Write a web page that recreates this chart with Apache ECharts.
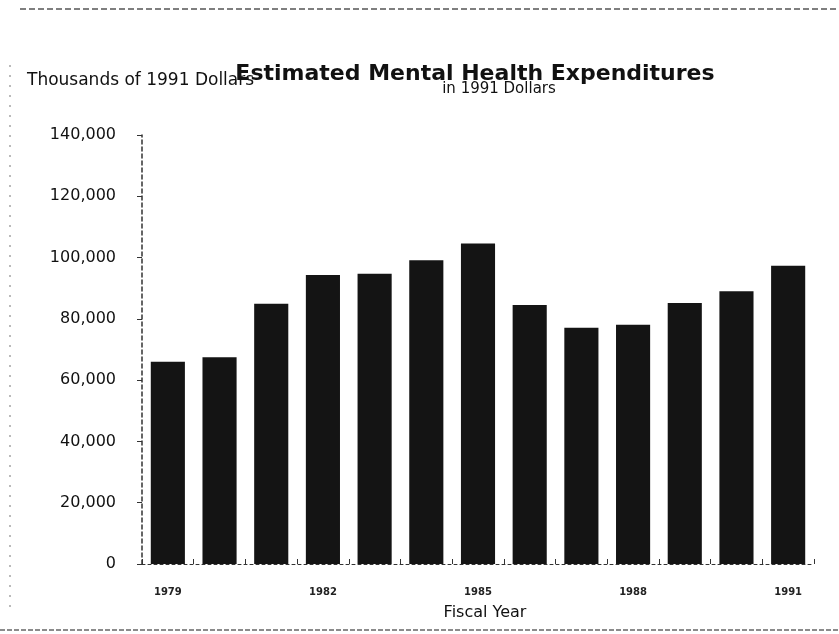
<!DOCTYPE html>
<html>
<head>
<meta charset="utf-8">
<style>html,body{margin:0;padding:0;background:#fff;}#c{width:839px;height:634px;}</style>
<script src="https://cdn.jsdelivr.net/npm/echarts@6/dist/echarts.min.js"></script>
</head>
<body>
<div id="c"></div>
<script>
const years = ['1979','1980','1981','1982','1983','1984','1985','1986','1987','1988','1989','1990','1991'];
const expenditures = [66000, 67500, 84900, 94300, 94700, 99100, 104600, 84500, 77100, 78100, 85200, 89000, 97300];
const yTicks = [0, 20000, 40000, 60000, 80000, 100000, 120000, 140000];

const FONT = 'DejaVu Sans, Liberation Sans, Arial, sans-serif';
const chart = echarts.init(document.getElementById('c'));
chart.setOption({
  animation: false,
  backgroundColor: '#fff',
  textStyle: { fontFamily: FONT },
  title: [
    { text: 'Estimated Mental Health Expenditures', left: 470, top: 58, textAlign: 'center',
      textStyle: { fontSize: 22, fontWeight: 'bold', color: '#111', fontFamily: FONT } },
    { text: 'in 1991 Dollars', left: 494, top: 77, textAlign: 'center',
      textStyle: { fontSize: 15, fontWeight: 'normal', color: '#111', fontFamily: FONT } },
    { text: 'Thousands of 1991 Dollars', left: 22, top: 67,
      textStyle: { fontSize: 17, fontWeight: 'normal', color: '#111', fontFamily: FONT } },
    { text: 'Fiscal Year', left: 480, top: 600, textAlign: 'center',
      textStyle: { fontSize: 16, fontWeight: 'normal', color: '#111', fontFamily: FONT } }
  ],
  graphic: [
    { type: 'line', shape: { x1: 20, y1: 9, x2: 839, y2: 9 }, style: { stroke: '#555', lineWidth: 1.5, lineDash: [6, 3] } },
    { type: 'line', shape: { x1: 0, y1: 630, x2: 839, y2: 630 }, style: { stroke: '#666', lineWidth: 1.5, lineDash: [5, 2] } },
    { type: 'line', shape: { x1: 10, y1: 65, x2: 10, y2: 610 }, style: { stroke: '#777', lineWidth: 1, lineDash: [2, 8] } }
  ],
  grid: { left: 142, right: 25, top: 135, bottom: 70, containLabel: false },
  xAxis: {
    type: 'category',
    data: years,
    axisLine: { show: true, lineStyle: { color: '#333', width: 1, type: [3, 3] } },
    axisTick: { show: true, interval: 0, alignWithLabel: false, length: 5, inside: true, lineStyle: { color: '#333' } },
    axisLabel: { interval: 2, margin: 23, fontSize: 10, fontWeight: 'bold', color: '#222', fontFamily: FONT }
  },
  yAxis: {
    type: 'value',
    min: 0, max: 140000, interval: 20000,
    splitLine: { show: false },
    axisLine: { show: true, lineStyle: { color: '#333', width: 1.5, type: [4, 3] } },
    axisTick: { show: true, length: 5, lineStyle: { color: '#333' } },
    axisLabel: {
      fontSize: 16, color: '#111', margin: 26, fontFamily: FONT,
      formatter: v => yTicks.includes(v) ? v.toLocaleString('en-US') : ''
    }
  },
  series: [{
    type: 'bar',
    data: expenditures,
    barCategoryGap: '34%',
    itemStyle: { color: '#141414' }
  }]
});
</script>
</body>
</html>
